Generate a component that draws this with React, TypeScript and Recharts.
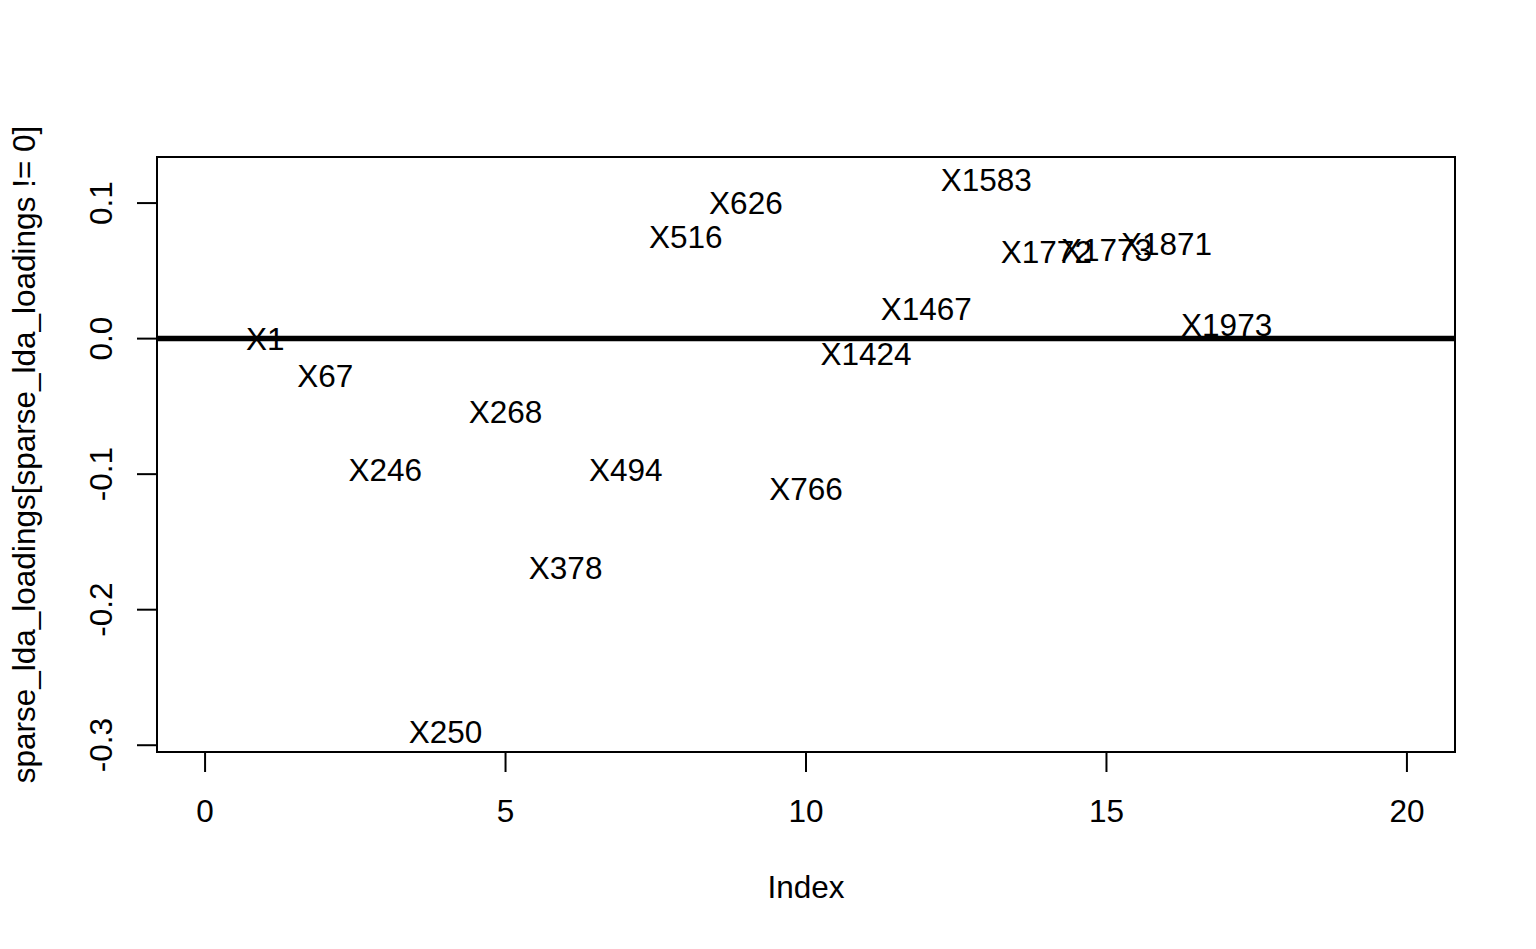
import { ScatterChart, Scatter, XAxis, YAxis, ReferenceLine, ReferenceArea, Label } from "recharts";

const variableNames = [
  "X1", "X67", "X246", "X250", "X268", "X378", "X494", "X516", "X626",
  "X766", "X1424", "X1467", "X1583", "X1772", "X1773", "X1871", "X1973"
];

const loadings = [
  0.0, -0.027, -0.097, -0.29, -0.054, -0.169, -0.097, 0.075, 0.1,
  -0.111, -0.011, 0.022, 0.117, 0.064, 0.066, 0.07, 0.01
];

const xTicks = [0, 5, 10, 15, 20];
const yTicks = [-0.3, -0.2, -0.1, 0, 0.1];

const X_DOMAIN: [number, number] = [-0.8, 20.8];
const Y_DOMAIN: [number, number] = [-0.305, 0.134];

const FONT = '"Liberation Sans", Arial, Helvetica, sans-serif';
const FONT_SIZE = 31.5;

const points = loadings.map((value, i) => ({
  index: i + 1,
  value,
  name: variableNames[i]
}));

function XTick({ x, y, payload }: any) {
  return (
    <g>
      <line x1={x} y1={y} x2={x} y2={y + 20} stroke="#000" strokeWidth={2} />
      <text x={x} y={y + 70} textAnchor="middle" fontFamily={FONT} fontSize={FONT_SIZE} fill="#000">
        {payload.value}
      </text>
    </g>
  );
}

function YTick({ x, y, payload }: any) {
  return (
    <g>
      <line x1={x - 20} y1={y} x2={x} y2={y} stroke="#000" strokeWidth={2} />
      <text
        transform={`translate(${x - 45}, ${y}) rotate(-90)`}
        textAnchor="middle"
        fontFamily={FONT}
        fontSize={FONT_SIZE}
        fill="#000"
      >
        {Number(payload.value).toFixed(1)}
      </text>
    </g>
  );
}

function XTitle({ viewBox }: any) {
  return (
    <text x={viewBox.x + viewBox.width / 2} y={viewBox.y + 146} textAnchor="middle" fontFamily={FONT} fontSize={FONT_SIZE} fill="#000">
      Index
    </text>
  );
}

function YTitle({ viewBox }: any) {
  return (
    <text
      transform={`translate(35, ${viewBox.y + viewBox.height / 2}) rotate(-90)`}
      textAnchor="middle"
      fontFamily={FONT}
      fontSize={FONT_SIZE}
      fill="#000"
    >
      sparse_lda_loadings[sparse_lda_loadings != 0]
    </text>
  );
}

function NameLabel({ cx, cy, payload }: any) {
  return (
    <text x={cx} y={cy} dy="0.36em" textAnchor="middle" fontFamily={FONT} fontSize={FONT_SIZE} fill="#000">
      {payload.name}
    </text>
  );
}

export default function App() {
  return (
    <div style={{ position: "absolute", left: 0, top: 0, width: 1536, height: 949, background: "#fff" }}>
      <ScatterChart width={1536} height={949} margin={{ top: 157, right: 81, bottom: 0, left: 0 }}>
        <XAxis
          type="number"
          dataKey="index"
          domain={X_DOMAIN}
          ticks={xTicks}
          allowDataOverflow
          axisLine={false}
          tickLine={false}
          tickSize={0}
          tickMargin={0}
          height={197}
          tick={<XTick />}
        >
          <Label content={<XTitle />} />
        </XAxis>
        <YAxis
          type="number"
          dataKey="value"
          domain={Y_DOMAIN}
          ticks={yTicks}
          allowDataOverflow
          axisLine={false}
          tickLine={false}
          tickSize={0}
          tickMargin={0}
          width={157}
          tick={<YTick />}
        >
          <Label content={<YTitle />} />
        </YAxis>
        <ReferenceArea
          x1={X_DOMAIN[0]}
          x2={X_DOMAIN[1]}
          y1={Y_DOMAIN[0]}
          y2={Y_DOMAIN[1]}
          fill="none"
          stroke="#000"
          strokeWidth={2}
          ifOverflow="visible"
        />
        <ReferenceLine y={0} stroke="#000" strokeWidth={5.5} />
        <Scatter data={points} isAnimationActive={false} shape={<NameLabel />} />
      </ScatterChart>
    </div>
  );
}
